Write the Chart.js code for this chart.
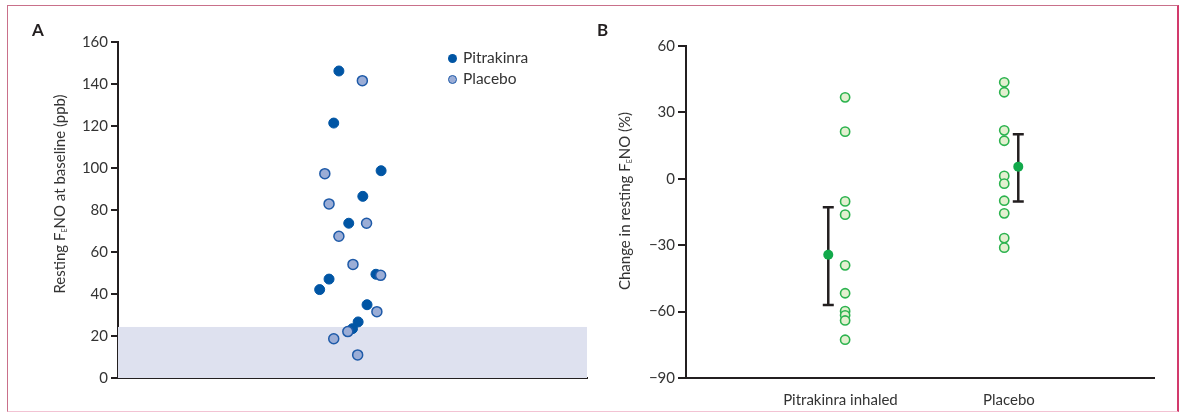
<!DOCTYPE html>
<html>
<head>
<meta charset="utf-8">
<script src="https://cdn.jsdelivr.net/npm/chart.js@4.4.1/dist/chart.umd.min.js"></script>
<style>
  html, body { margin: 0; padding: 0; background: #fff; }
  #wrap { position: relative; width: 1182px; height: 415px; overflow: hidden; font-family: Lato, "Liberation Sans", sans-serif; color: #333; }
  canvas { position: absolute; top: 0; }
  #cA { left: 0; }
  #cB { left: 600px; }
  .frame { position: absolute; left: 7px; top: 5px; width: 1172px; height: 407px; box-sizing: border-box;
           border-top: 1px solid #c9708a; border-left: 1.5px solid #c9708a; border-right: 2px solid #d23a6c; border-bottom: 1.5px solid #f2c3d3; pointer-events: none; }
  .plabel { position: absolute; font-weight: bold; font-size: 17px; color: #231f20; }
  .ytitle { position: absolute; font-size: 15px; color: #333; white-space: nowrap; transform: translate(-50%, -50%) rotate(-90deg); }
  .ytitle sub { font-size: 7px; vertical-align: -2px; }
  .leg { position: absolute; font-size: 15.5px; color: #333; white-space: nowrap; }
  .dot { position: absolute; width: 9px; height: 9px; border-radius: 50%; box-sizing: border-box; }
</style>
</head>
<body>
<div id="wrap">
  <canvas id="cA" width="600" height="415"></canvas>
  <canvas id="cB" width="582" height="415"></canvas>
  <div class="frame"></div>
  <div class="plabel" style="left:32px;top:19px;">A</div>
  <div class="plabel" style="left:597px;top:19px;">B</div>
  <div class="ytitle" style="left:59px;top:194px;">Resting F<sub>E</sub>NO at baseline (ppb)</div>
  <div class="ytitle" style="left:624px;top:201px;">Change in resting F<sub>E</sub>NO (%)</div>
  <div class="dot" style="left:448px;top:54px;background:#0055a4;"></div>
  <div class="leg" style="left:463px;top:48px;">Pitrakinra</div>
  <div class="dot" style="left:448px;top:75px;background:#9badd6;border:1.5px solid #1e5aa8;"></div>
  <div class="leg" style="left:463px;top:69px;">Placebo</div>
</div>
<script>
// ---------- Panel A data: resting FeNO at baseline (ppb) ----------
const aPitrakinraX = [47.1, 46.0, 56.1, 52.2, 49.2, 45.0, 43.0, 55.0, 53.1, 51.2, 50.0];
const aPitrakinraY = [146.2, 121.4, 98.7, 86.5, 73.7, 47.1, 42.1, 49.4, 34.9, 26.7, 23.5];
const aPlaceboX = [52.1, 44.1, 45.0, 53.0, 47.1, 50.1, 56.0, 55.2, 49.0, 46.0, 51.1];
const aPlaceboY = [141.6, 97.3, 82.9, 73.7, 67.5, 54.1, 48.9, 31.6, 22.1, 18.7, 11.0];
const aShadeTop = 24.3;
const aYTicks = [0, 20, 40, 60, 80, 100, 120, 140, 160];

// ---------- Panel B data: change in resting FeNO (%) ----------
const bGroups = ['Pitrakinra inhaled', 'Placebo'];
const bGroupTickX = [33, 69];
const bPointsX = [34, 68];
const bMeanX = [30.4, 71];
const bPitrakinraY = [36.8, 21.3, -10.2, -16.2, -39.1, -51.7, -59.8, -61.7, -64.0, -72.7];
const bPlaceboY = [43.6, 39.1, 21.9, 17.2, 1.3, -2.2, -9.9, -15.6, -26.8, -31.1];
const bMeans = [-34.3, 5.5];
const bLower = [-57.0, -10.2];
const bUpper = [-12.9, 20.1];
const bYTicks = [-90, -60, -30, 0, 30, 60];

const AXIS = '#231f20';
const TICKTXT = '#333333';
const FONT = { family: 'Lato, "Liberation Sans", sans-serif', size: 15 };

function pts(xs, ys) { return ys.map((y, i) => ({ x: xs[i], y })); }
function fixedWidth(w) { return s => { s.width = w; }; }
function fixedHeight(h) { return s => { s.height = h; }; }

const shadePlugin = {
  id: 'shade',
  beforeDatasetsDraw(chart) {
    const { ctx, chartArea, scales } = chart;
    const yTop = scales.y.getPixelForValue(aShadeTop);
    const yBot = scales.y.getPixelForValue(0);
    ctx.save();
    ctx.fillStyle = '#dee1ef';
    ctx.fillRect(chartArea.left, yTop, chartArea.right - chartArea.left, yBot - yTop);
    ctx.restore();
  }
};

new Chart(document.getElementById('cA'), {
  type: 'scatter',
  data: {
    datasets: [
      { label: 'Pitrakinra', data: pts(aPitrakinraX, aPitrakinraY), backgroundColor: '#0055a4', borderColor: '#0055a4', pointRadius: 5, pointBorderWidth: 1, order: 2 },
      { label: 'Placebo', data: pts(aPlaceboX, aPlaceboY), backgroundColor: '#9badd6', borderColor: '#1e5aa8', pointRadius: 5, pointBorderWidth: 1.5, order: 1 }
    ]
  },
  options: {
    responsive: false, animation: false, devicePixelRatio: 1,
    layout: { padding: { left: 0, top: 42, right: 13, bottom: 27 } },
    plugins: { legend: { display: false }, tooltip: { enabled: false } },
    scales: {
      x: {
        type: 'linear', min: 0, max: 100,
        ticks: { display: false },
        grid: { display: false },
        border: { display: true, color: AXIS, width: 2 },
        afterFit: fixedHeight(10)
      },
      y: {
        min: 0, max: 160,
        afterBuildTicks: s => { s.ticks = aYTicks.map(v => ({ value: v })); },
        ticks: { color: TICKTXT, font: FONT, padding: 3 },
        grid: { drawOnChartArea: false, drawTicks: true, tickLength: 7, color: AXIS, lineWidth: 2 },
        border: { display: true, color: AXIS, width: 2 },
        afterFit: fixedWidth(118)
      }
    }
  },
  plugins: [shadePlugin]
});

const errorBarPlugin = {
  id: 'errbars',
  beforeDatasetsDraw(chart) {
    const { ctx, scales } = chart;
    ctx.save();
    ctx.strokeStyle = AXIS;
    ctx.lineWidth = 2.5;
    bMeans.forEach((m, i) => {
      const x = scales.x.getPixelForValue(bMeanX[i]);
      const yl = scales.y.getPixelForValue(bLower[i]);
      const yu = scales.y.getPixelForValue(bUpper[i]);
      ctx.beginPath();
      ctx.moveTo(x, yu); ctx.lineTo(x, yl);
      ctx.moveTo(x - 5.5, yu); ctx.lineTo(x + 5.5, yu);
      ctx.moveTo(x - 5.5, yl); ctx.lineTo(x + 5.5, yl);
      ctx.stroke();
    });
    ctx.restore();
  }
};

new Chart(document.getElementById('cB'), {
  type: 'scatter',
  data: {
    datasets: [
      { label: 'Means', data: pts(bMeanX, bMeans), backgroundColor: '#12a94b', borderColor: '#12a94b', pointRadius: 5, pointBorderWidth: 0 },
      { label: bGroups[0], data: bPitrakinraY.map(y => ({ x: bPointsX[0], y })), backgroundColor: '#e3f0d0', borderColor: '#2cb34f', pointRadius: 4.6, pointBorderWidth: 1.6 },
      { label: bGroups[1], data: bPlaceboY.map(y => ({ x: bPointsX[1], y })), backgroundColor: '#e3f0d0', borderColor: '#2cb34f', pointRadius: 4.6, pointBorderWidth: 1.6 }
    ]
  },
  options: {
    responsive: false, animation: false, devicePixelRatio: 1,
    layout: { padding: { left: 0, top: 46, right: 28, bottom: 0 } },
    plugins: { legend: { display: false }, tooltip: { enabled: false } },
    scales: {
      x: {
        type: 'linear', min: 0, max: 100,
        afterBuildTicks: s => { s.ticks = bGroupTickX.map(v => ({ value: v })); },
        ticks: { color: TICKTXT, font: FONT, padding: 5, maxRotation: 0, autoSkip: false,
                 callback: (v) => bGroups[bGroupTickX.indexOf(v)] },
        grid: { display: false },
        border: { display: true, color: AXIS, width: 2 },
        afterFit: fixedHeight(37)
      },
      y: {
        min: -90, max: 60,
        afterBuildTicks: s => { s.ticks = bYTicks.map(v => ({ value: v })); },
        ticks: { color: TICKTXT, font: FONT, padding: 3, callback: v => (v < 0 ? '\u2212' + Math.abs(v) : String(v)) },
        grid: { drawOnChartArea: false, drawTicks: true, tickLength: 8, color: AXIS, lineWidth: 2 },
        border: { display: true, color: AXIS, width: 2 },
        afterFit: fixedWidth(86)
      }
    }
  },
  plugins: [errorBarPlugin]
});
</script>
</body>
</html>
